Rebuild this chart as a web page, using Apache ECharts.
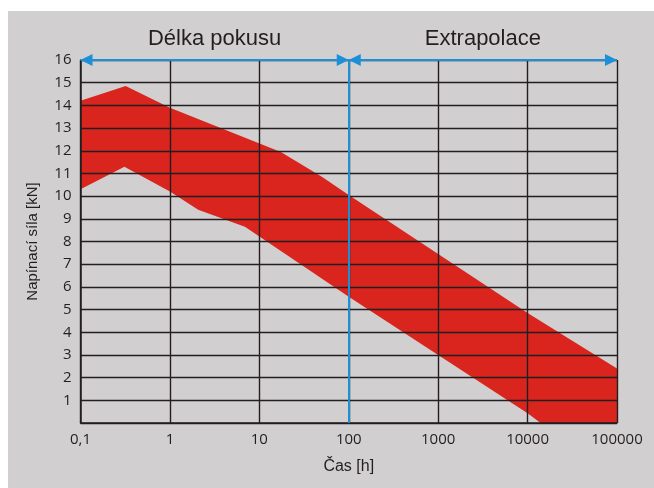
<!DOCTYPE html>
<html>
<head>
<meta charset="utf-8">
<script src="https://cdn.jsdelivr.net/npm/echarts@6/dist/echarts.min.js"></script>
<style>
  html, body { margin: 0; padding: 0; background: #ffffff; overflow: hidden; }
  #panel { position: absolute; left: 8px; top: 11px; width: 646px; height: 477px; background: #d1cfd0; }
</style>
</head>
<body>
<div id="panel"></div>
<script>
// horni a dolni okraj pasma [cas h, sila kN]
var upperEdge = [[0.1, 14.2], [0.32, 14.85], [1, 13.9], [17.4, 11.95], [50, 10.85], [100, 10.05], [1000, 7.45], [10000, 4.85], [100000, 2.4]];
var lowerEdge = [[0.1, 10.3], [0.31, 11.3], [1, 10.2], [2.07, 9.4], [6.9, 8.65], [100, 5.56], [1000, 3.0], [10000, 0.43], [14000, 0], [100000, 0]];
var phases = ['Délka pokusu', 'Extrapolace'];
var phaseBounds = [0.1, 100, 100000];
var yMax = 16;

var ink = '#231f20';
var bg = '#d1cfd0';
var blue = '#1b90d9';
var red = '#d9251d';

var chart = echarts.init(document.getElementById('panel'));

var arrowLines = [];
for (var i = 0; i < phases.length; i++) {
  arrowLines.push([
    { coord: [phaseBounds[i], yMax], symbol: 'triangle', symbolSize: 12, symbolOffset: [0, 6], name: phases[i] },
    { coord: [phaseBounds[i + 1], yMax], symbol: 'triangle', symbolSize: 12, symbolOffset: [0, 6] }
  ]);
}
// svisla hranice mezi zkouskou a extrapolaci
arrowLines.push([
  { coord: [phaseBounds[1], 0], symbol: 'none', label: { show: false } },
  { coord: [phaseBounds[1], yMax], symbol: 'none' }
]);

var option = {
  animation: false,
  grid: { left: 72.5, top: 49, width: 536.5, height: 363, containLabel: false },
  xAxis: {
    type: 'log',
    logBase: 10,
    min: 0.1,
    max: 100000,
    z: 3,
    name: 'Čas [h]',
    nameLocation: 'middle',
    nameGap: 36,
    nameTextStyle: { color: ink, fontSize: 16, fontFamily: 'Liberation Sans' },
    axisLine: { lineStyle: { color: ink, width: 1.5 } },
    axisTick: { show: false },
    axisLabel: {
      color: ink, fontSize: 15, fontFamily: 'Open Sans', margin: 9,
      formatter: function (v) { return v < 1 ? String(v).replace('.', ',') : String(v); }
    },
    splitLine: { show: true, lineStyle: { color: ink, width: 1.4 } },
    minorSplitLine: { show: false }
  },
  yAxis: {
    type: 'value',
    min: 0,
    max: yMax,
    interval: 1,
    z: 3,
    name: 'Napínací síla [kN]',
    nameLocation: 'middle',
    nameGap: 40,
    nameTextStyle: { color: ink, fontSize: 15, fontFamily: 'Liberation Sans' },
    axisLine: { show: true, lineStyle: { color: ink, width: 1.5 } },
    axisTick: { show: false },
    axisLabel: {
      color: ink, fontSize: 15, fontFamily: 'Open Sans', margin: 9,
      formatter: function (v) { return v === 0 ? '' : String(v); }
    },
    splitLine: { show: true, lineStyle: { color: ink, width: 1.4 } }
  },
  series: [
    {
      name: 'horni',
      type: 'line',
      data: upperEdge,
      symbol: 'none',
      z: 1,
      lineStyle: { width: 0 },
      areaStyle: { color: red, opacity: 1 }
    },
    {
      name: 'dolni',
      type: 'line',
      data: lowerEdge,
      symbol: 'none',
      z: 2,
      lineStyle: { width: 0 },
      areaStyle: { color: bg, opacity: 1 },
      markLine: {
        z: 10,
        silent: true,
        lineStyle: { color: blue, width: 2, type: 'solid' },
        label: {
          show: true,
          position: 'middle',
          distance: 10,
          formatter: '{b}',
          color: ink,
          fontSize: 22,
          fontFamily: 'Liberation Sans'
        },
        data: arrowLines
      }
    }
  ]
};

chart.setOption(option);
</script>
</body>
</html>
